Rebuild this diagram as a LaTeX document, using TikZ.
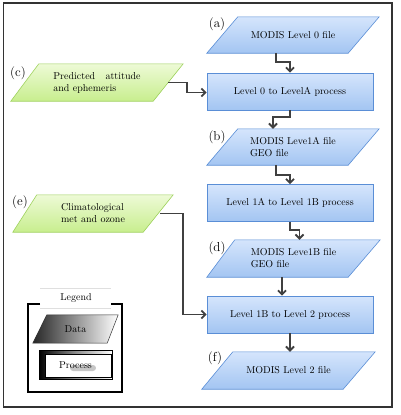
\documentclass[tikz,border=0pt]{standalone}
\usetikzlibrary{arrows.meta,calc,backgrounds}
\definecolor{blueT}{HTML}{D5E5FC}
\definecolor{blueB}{HTML}{A3C5F2}
\definecolor{blueedge}{HTML}{5A8ED6}
\definecolor{greenT}{HTML}{EDFAD6}
\definecolor{greenB}{HTML}{C8EE8E}
\definecolor{greenedge}{HTML}{9FD25E}
\definecolor{arrowc}{HTML}{404040}
\definecolor{framec}{HTML}{333333}
\tikzset{
  txt/.style={font=\fontsize{10}{12}\selectfont},
  holder/.style={rectangle, inner sep=0pt, txt, align=left},
  bluefill/.style={draw=blueedge, line width=0.6pt, top color=blueT, bottom color=blueB},
  greenfill/.style={draw=greenedge, line width=0.6pt, top color=greenT, bottom color=greenB},
  procbox/.style={rectangle, minimum width=166pt, minimum height=37pt, bluefill, txt},
  lbl/.style={font=\fontsize{13}{15}\selectfont, inner sep=0pt},
  arr/.style={draw=arrowc, line width=1.9pt, -{Straight Barb[length=4pt,width=8pt]}},
}
% parallelogram behind a named node: #1 node, #2 top-left inset, #3 bottom-right inset
\newcommand\paral[4]{%
  \path[#4] (#1.south west) -- ([xshift=-#3]#1.south east) -- (#1.north east)
     -- ([xshift=#2]#1.north west) -- cycle;}
\begin{document}
\begin{tikzpicture}[x=1pt,y=-1pt]
\useasboundingbox (0,0) rectangle (400,415);
\draw[framec, line width=1.3pt] (3.5,3) rectangle (392,407);

% data / process nodes
\node[holder, minimum width=172pt, minimum height=36pt] (a) at (293,35) {MODIS Level 0 file};
\node[procbox] (p1) at (290,91.5) {Level 0 to LevelA process};
\node[holder, minimum width=172pt, minimum height=36pt] (b) at (293,147) {MODIS Leve1A file\\GEO file};
\node[procbox] (p2) at (290,203) {Level 1A to Level 1B process};
\node[holder, minimum width=173pt, minimum height=37pt] (d) at (293.5,258.5) {MODIS Leve1B file\\GEO file};
\node[procbox] (p3) at (290,314.5) {Level 1B to Level 2 process};
\node[holder, minimum width=173pt, minimum height=37pt] (f) at (288.5,370.5) {MODIS Level 2 file};
\node[holder, minimum width=172pt, minimum height=37pt] (c) at (97,82.5) {Predicted\hspace{7pt} attitude\\and ephemeris};
\node[holder, minimum width=160pt, minimum height=37pt] (e) at (93,213.5) {Climatological\\met and ozone};

\begin{scope}[on background layer]
  \paral{a}{31pt}{31pt}{bluefill}
  \paral{b}{31pt}{31pt}{bluefill}
  \paral{d}{28pt}{32pt}{bluefill}
  \paral{f}{31pt}{32pt}{bluefill}
  \paral{c}{28pt}{30pt}{greenfill}
  \paral{e}{24pt}{30pt}{greenfill}
\end{scope}

% labels
\node[lbl] (la) at (217,24) {(a)};
\node[lbl] (lb) at (217,137) {(b)};
\node[lbl] (lc) at (18,73) {(c)};
\node[lbl] (ld) at (217,248) {(d)};
\node[lbl] (le) at (20,202) {(e)};
\node[lbl] (lf) at (215,358) {(f)};

% connectors
\draw[arr] ([xshift=-15pt]c.east) -- ++(19,0) |- ([yshift=-1pt]p1.west);
\draw[arr] ([xshift=-17pt]a.south) -- ++(0,9) -| (p1.north);
\draw[arr] (p1.south) -- ++(0,7) -| ([xshift=-20pt]b.north);
\draw[arr] ([xshift=-17pt]b.south) -- ++(0,10) -| (p2.north);
\draw[arr] (p2.south) -- ++(0,8) -| ([xshift=6pt]d.north);
\draw[arr] ([xshift=-11.5pt]d.south) -- ([xshift=-11.5pt]d.south |- p3.north);
\draw[arr] (p3.south) -- (p3.south |- f.north);
\draw[arr] ([xshift=-13pt]e.east) -- ++(23,0) |- (p3.west);

% legend
\draw[black, line width=1.1pt] (40,304) -- (28,304) -- (28,392) -- (122,392) -- (122,304) -- (111,304);
\draw[gray!25, line width=0.6pt] (40,288) -- (111,288);
\draw[gray!25, line width=0.6pt] (40,308) -- (111,308);
\node[txt, inner sep=1pt] (legtitle) at (76,298) {Legend};
\node[holder, minimum width=85pt, minimum height=28pt, align=center] (legdata) at (75.5,329) {Data};
\begin{scope}[on background layer]
  \path[draw=black!80, line width=0.5pt, left color=black!85, right color=white]
    (legdata.south west) -- ([xshift=-11pt]legdata.south east) -- (legdata.north east)
    -- ([xshift=14pt]legdata.north west) -- cycle;
\end{scope}
\node[rectangle, minimum width=73pt, minimum height=29pt, inner sep=0pt,
  left color=black, right color=white, middle color=black!45] (legproc) at (75.5,364.5) {};
\draw[black, line width=0.6pt, fill=white] (45,354) rectangle (111,377);
\draw[black, line width=0.5pt] (legproc.north west) rectangle (legproc.south east);
\fill[gray!55, opacity=0.8, rounded corners=3pt] (70,365) rectangle (96,371);
\node[txt] (legproctext) at (75.5,365) {Process};
\end{tikzpicture}
\end{document}
